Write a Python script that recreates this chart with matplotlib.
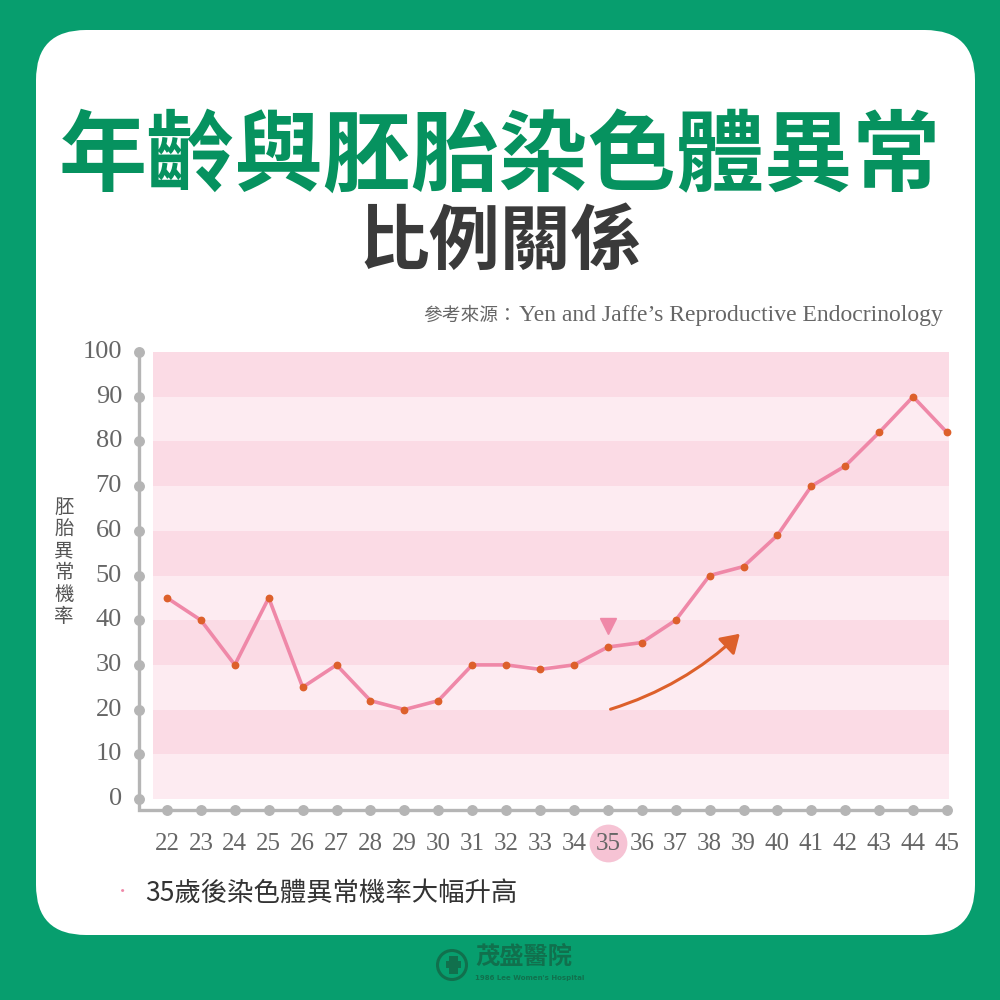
import matplotlib
matplotlib.use("Agg")
import matplotlib.pyplot as plt
from matplotlib.patches import FancyBboxPatch, FancyArrowPatch, Circle, Rectangle

plt.rcParams['font.family'] = ['Noto Sans CJK TC', 'DejaVu Sans']

# ---- data ----
ages = list(range(22, 46))
rates = [45, 40, 30, 45, 25, 30, 22, 20, 22, 30, 30, 29, 30,
         34, 35, 40, 50, 52, 59, 70, 74.5, 82, 90, 82]
y_ticks = [0, 10, 20, 30, 40, 50, 60, 70, 80, 90, 100]
highlight_age = 35

title = "年齡與胚胎染色體異常"
subtitle = "比例關係"
source_zh = "參考來源："
source_en = "Yen and Jaffe\u2019s Reproductive Endocrinology"
y_label = "胚胎異常機率"
note = "35歲後染色體異常機率大幅升高"
brand = "茂盛醫院"
brand_en = "1986 Lee Women's Hospital"

# ---- colours ----
GREEN_BG = "#079e6e"
GREEN_TITLE = "#06925f"
DARK_TEXT = "#333333"
GRAY_TEXT = "#666666"
AXIS_GRAY = "#b5b5b5"
BAND_DARK = "#fbdbe5"
BAND_LIGHT = "#fdebf1"
LINE_PINK = "#ef88a8"
DOT_ORANGE = "#dd602b"
HILITE = "#f6c3d4"
LOGO_GREEN = "#11704d"

fig = plt.figure(figsize=(10, 10), dpi=100)
fig.patch.set_facecolor(GREEN_BG)

# white rounded panel
panel = FancyBboxPatch((0.036 + 0.05, 0.065 + 0.05), 0.939 - 0.10, 0.905 - 0.10,
                       boxstyle="round,pad=0.05", transform=fig.transFigure,
                       facecolor="white", edgecolor="none", zorder=-5)
fig.patches.append(panel)

# titles
fig.text(0.5, 0.842, title, ha="center", va="center", fontsize=63.5,
         fontweight="black", color=GREEN_TITLE)
fig.text(0.5, 0.757, subtitle, ha="center", va="center", fontsize=51,
         fontweight="black", color="#3a3a3a")

# source line: English part right-aligned, Chinese part placed before it
src_en = fig.text(0.943, 0.684, source_en, ha="right", va="center", fontsize=17,
                  color=GRAY_TEXT, family="Liberation Serif")
fig.canvas.draw()
bb = src_en.get_window_extent()
fig.text(bb.x0 / 1000 - 0.002, 0.685, source_zh, ha="right", va="center",
         fontsize=13.5, color=GRAY_TEXT)

# ---- chart axes ----
# x: 22 -> px 167, 45 -> px 947 ; y: 0 -> px 799, 100 -> px 352
px_per_x = (947 - 167) / 23.0
px_per_y = (799 - 352) / 100.0
x_left = 22 - (167 - 139) / px_per_x
x_right = 45 + (949 - 947) / px_per_x
y_bottom = -(810 - 799) / px_per_y

ax = fig.add_axes([0.139, 0.190, 0.810, 0.458])
ax.set_zorder(2)
ax.patch.set_alpha(0)
ax.set_xlim(x_left, x_right)
ax.set_ylim(y_bottom, 100)
ax.axis("off")

# alternating bands
band_x0 = 22 - (167 - 153) / px_per_x
for i in range(10):
    lo = i * 10
    color = BAND_DARK if i % 2 == 1 else BAND_LIGHT
    ax.fill_between([band_x0, x_right], lo, lo + 10, color=color, lw=0, zorder=1)

# axis lines with dots
ax.plot([x_left, x_left, 45], [100, y_bottom, y_bottom], color=AXIS_GRAY,
        lw=2.4, solid_joinstyle="miter", clip_on=False, zorder=2)
ax.scatter([x_left] * len(y_ticks), y_ticks, s=62, color=AXIS_GRAY,
           clip_on=False, zorder=3, lw=0)
ax.scatter(ages, [y_bottom] * len(ages), s=62, color=AXIS_GRAY,
           clip_on=False, zorder=3, lw=0)

# tick labels
label_y = y_bottom - 34 / px_per_y
for v in y_ticks:
    ax.text(x_left - 17 / px_per_x, v, str(v), ha="right", va="center",
            fontsize=19, color=GRAY_TEXT, family="Liberation Serif",
            clip_on=False)
ax.scatter([highlight_age], [label_y + 1 / px_per_y], s=740, color=HILITE,
           lw=0, clip_on=False, zorder=2)
for a in ages:
    ax.text(a, label_y, str(a), ha="center", va="center",
            fontsize=18, color=GRAY_TEXT, family="Liberation Serif",
            clip_on=False, zorder=5)

# y label, stacked vertically
fig.text(0.064, 1 - 0.562, "\n".join(y_label), ha="center", va="center",
         fontsize=14, color="#555555", linespacing=1.05)

# data line
ax.plot(ages, rates, color=LINE_PINK, lw=2.6, zorder=4, clip_on=False)
ax.plot(ages, rates, ls="none", marker="o", ms=4.6, color=DOT_ORANGE,
        zorder=5, clip_on=False)

# triangle pointer above 35
r35 = rates[ages.index(highlight_age)]
ax.plot([highlight_age], [r35 + 21 / px_per_y], marker="v", ms=12,
        color=LINE_PINK, zorder=5, ls="none")

# curved trend arrow
arrow = FancyArrowPatch((35.0, 19.9), (38.95, 37.4),
                        connectionstyle="arc3,rad=0.12",
                        arrowstyle="-|>,head_length=0.55,head_width=0.35",
                        mutation_scale=20, color=DOT_ORANGE, lw=2.2, zorder=5)
ax.add_patch(arrow)

# footnote
fig.text(0.123, 1 - 0.892, "•", ha="center", va="center", fontsize=11,
         color=LINE_PINK)
fig.text(0.145, 1 - 0.893, note, ha="left", va="center", fontsize=19,
         color=DARK_TEXT)

# brand mark
cx, cy = 0.452, 1 - 0.965
fig.patches.append(Circle((cx, cy), 0.0145, transform=fig.transFigure,
                          facecolor="none", edgecolor=LOGO_GREEN, lw=2.2))
fig.patches.append(Rectangle((cx - 0.003, cy - 0.009), 0.009, 0.018,
                             transform=fig.transFigure, facecolor=LOGO_GREEN,
                             edgecolor="none"))
fig.patches.append(Rectangle((cx - 0.006, cy - 0.003), 0.015, 0.007,
                             transform=fig.transFigure, facecolor=LOGO_GREEN,
                             edgecolor="none"))
fig.text(0.475, 1 - 0.957, brand, ha="left", va="center", fontsize=17.5,
         fontweight="bold", color=LOGO_GREEN)
fig.text(0.475, 1 - 0.978, brand_en, ha="left", va="center", fontsize=5,
         fontweight="bold", color=LOGO_GREEN, family="DejaVu Sans")

fig.savefig("out.png", dpi=100, facecolor=fig.get_facecolor())
